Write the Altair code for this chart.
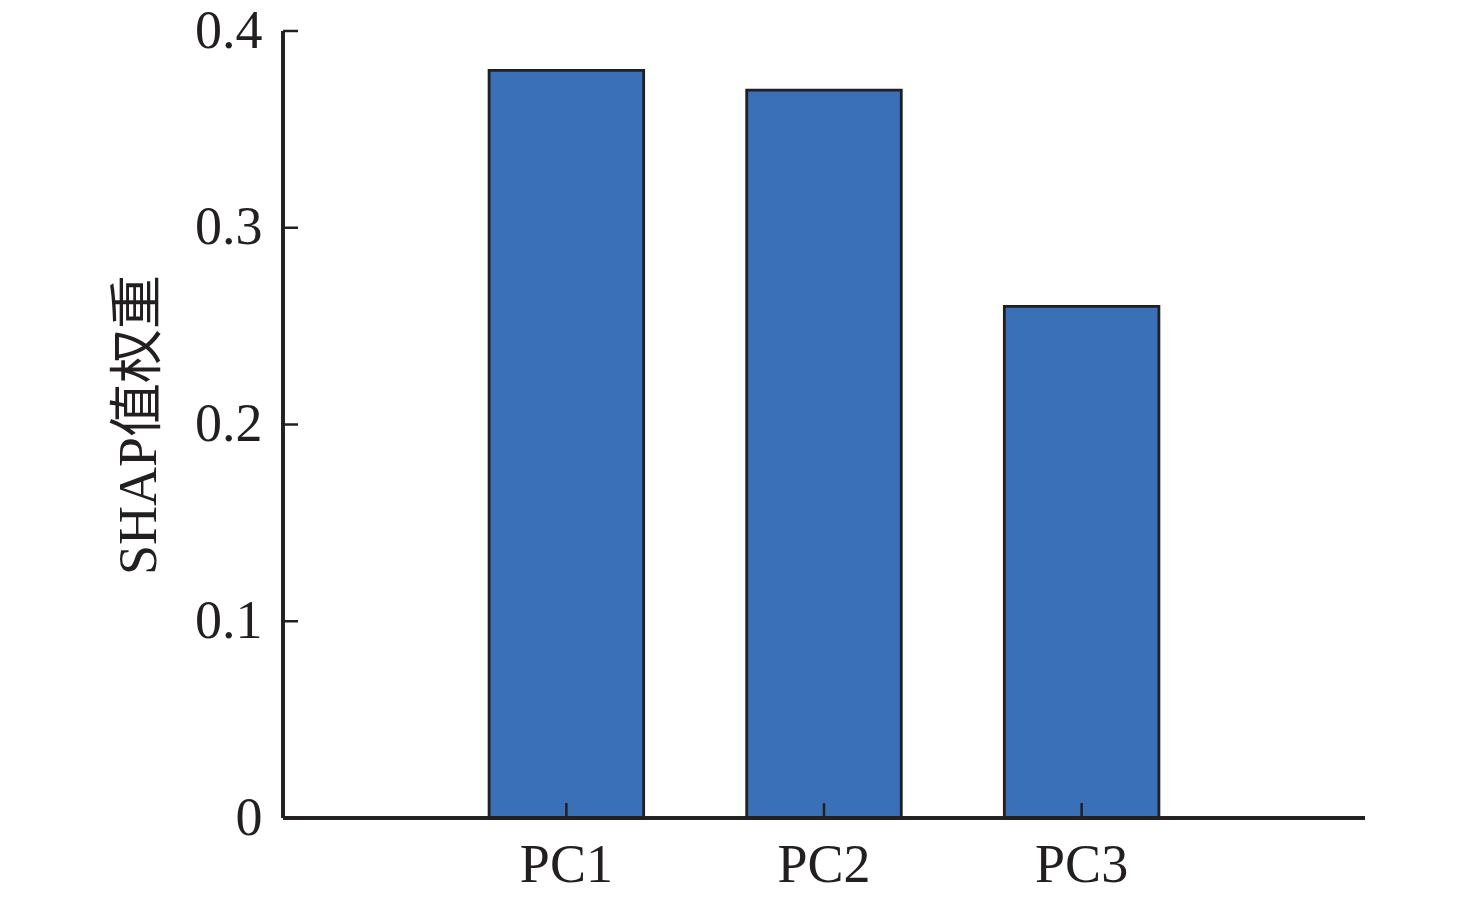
import altair as alt
import pandas as pd

# data
components = ["PC1", "PC2", "PC3"]
shap_weights = [0.38, 0.37, 0.26]
y_ticks = [0, 0.1, 0.2, 0.3, 0.4]

FONT = "Liberation Serif, Times New Roman, Noto Sans CJK SC"
INK = "#231f20"
W, H = 1082, 787

df = pd.DataFrame({"component": components, "weight": shap_weights})
ticks_df = pd.DataFrame({"tick": y_ticks})

x_scale = alt.Scale(domain=components, paddingInner=0.4, paddingOuter=0.8)
y_scale = alt.Scale(domain=[0, 0.4], nice=False, zero=True)

bars = alt.Chart(df).mark_bar(
    color="#3a70b8", stroke=INK, strokeWidth=2.8
).encode(
    x=alt.X("component:N", scale=x_scale, sort=components,
            axis=alt.Axis(title=None, ticks=False, domain=False, grid=False,
                          labelFontSize=54, labelPadding=20,
                          labelAngle=0, labelColor=INK, labelFont=FONT)),
    y=alt.Y("weight:Q", scale=y_scale,
            axis=alt.Axis(title="SHAP值权重", values=y_ticks, format="~g",
                          ticks=False, domain=False, grid=False,
                          labelFontSize=54, labelPadding=21, labelColor=INK,
                          labelFont=FONT, titleFont=FONT, titleFontSize=54,
                          titleFontWeight="normal", titleColor=INK,
                          titlePadding=28))
)

# inward-pointing tick marks, drawn as rules
x_ticks = alt.Chart(df).mark_rule(color=INK, strokeWidth=2.5).encode(
    x=alt.X("component:N", scale=x_scale, sort=components),
    y=alt.value(H),
    y2=alt.value(H - 15),
)

y_tick_marks = alt.Chart(ticks_df).mark_rule(color=INK, strokeWidth=2.5).encode(
    y=alt.Y("tick:Q", scale=y_scale),
    x=alt.value(0),
    x2=alt.value(15),
)

# axis lines (left and bottom)
left_line = alt.Chart(ticks_df).mark_rule(color=INK, strokeWidth=3).encode(
    x=alt.value(0), y=alt.value(0), y2=alt.value(H)
)
bottom_line = alt.Chart(ticks_df).mark_rule(color=INK, strokeWidth=3).encode(
    x=alt.value(0), x2=alt.value(W), y=alt.value(H)
)

chart = alt.layer(bars, x_ticks, y_tick_marks, left_line, bottom_line).properties(
    width=W,
    height=H,
    autosize=alt.AutoSizeParams(type="none"),
    padding={"left": 275, "top": 23, "right": 100, "bottom": 77},
).configure(
    background="white"
).configure_view(
    stroke=None
).configure_axis(
    grid=False
)

chart.save("out.html", embed_options={"renderer": "svg", "actions": False})
